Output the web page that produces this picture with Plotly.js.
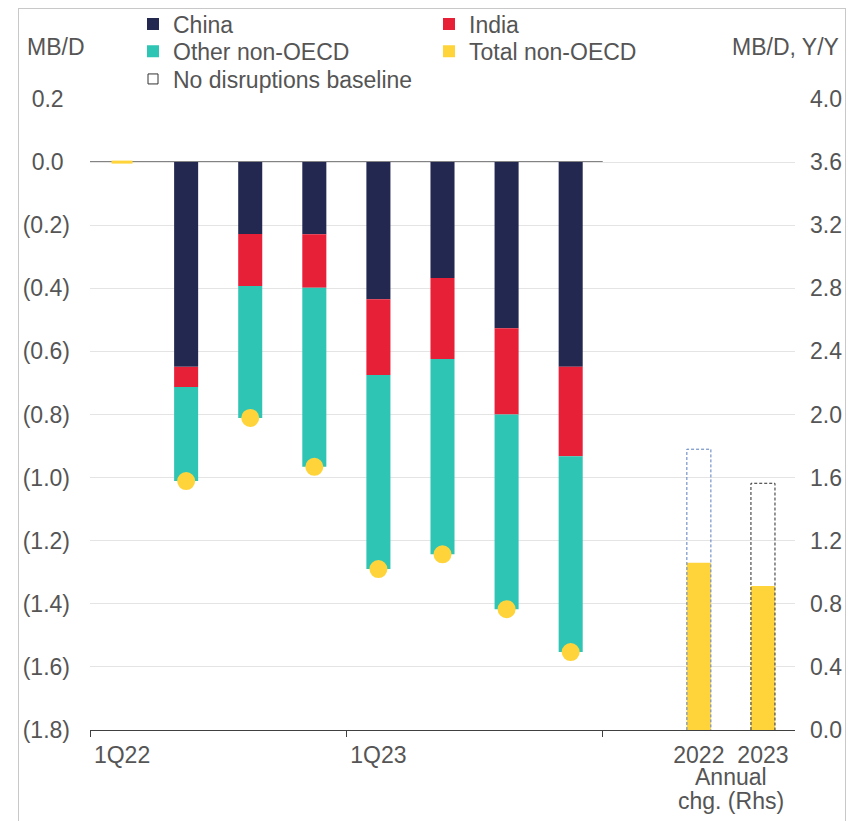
<!DOCTYPE html>
<html>
<head>
<meta charset="utf-8">
<script src="https://cdn.plot.ly/plotly-3.0.1.min.js"></script>
<style>
html,body{margin:0;padding:0;background:#fff;}
#wrap{position:relative;width:862px;height:821px;overflow:hidden;background:#fff;}
#chart{width:862px;height:821px;}
#frame{position:absolute;left:18px;top:8px;width:828px;height:840px;border:1px solid #c8c8c8;pointer-events:none;box-sizing:border-box;}
</style>
</head>
<body>
<div id="wrap"><div id="chart"></div><div id="frame"></div></div>
<script>
// ---- data ----
const quarters = ['1Q22','2Q22','3Q22','4Q22','1Q23','2Q23','3Q23','4Q23'];
const china    = [0, -0.649, -0.228, -0.229, -0.435, -0.367, -0.527, -0.649];
const india    = [0, -0.064, -0.165, -0.169, -0.240, -0.257, -0.273, -0.283];
const otherNon = [0, -0.298, -0.418, -0.568, -0.615, -0.619, -0.617, -0.621];
const totalQ   = [0, -1.011, -0.811, -0.966, -1.290, -1.243, -1.417, -1.553];
const years    = ['2022','2023'];
const totalAnnual = [1.06, 0.913];
const baselineAnnual = [1.78, 1.564];
const leftTickVals = [0.2, 0.0, -0.2, -0.4, -0.6, -0.8, -1.0, -1.2, -1.4, -1.6, -1.8];
const leftTickText = ['0.2\u00a0','0.0\u00a0','(0.2)','(0.4)','(0.6)','(0.8)','(1.0)','(1.2)','(1.4)','(1.6)','(1.8)'];
const rightTickVals = [0,0.4,0.8,1.2,1.6,2.0,2.4,2.8,3.2,3.6,4.0];
const rightTickText = ['0.0','0.4','0.8','1.2','1.6','2.0','2.4','2.8','3.2','3.6','4.0'];
const xLabels = ['1Q22','1Q23','2022','2023'];

// ---- positions ----
const qx = quarters.map((q,i) => i);
const yx = years.map((y,i) => quarters.length + 1 + i);
const xLabelPos = [quarters.indexOf('1Q22'), quarters.indexOf('1Q23'), yx[0], yx[1]];
const BW = 0.375;

const C_CHINA = '#222850', C_INDIA = '#e71f37', C_OTHER = '#2fc5b5', C_YEL = '#ffd43b';
const FONT = '"Liberation Sans", Arial, sans-serif';
const TXT = '#555555';
const FS = 23;

const traces = [
  {type:'bar', name:'China', legend:'legend', x:qx, y:china, width:BW, marker:{color:C_CHINA}, hoverinfo:'skip'},
  {type:'bar', name:'India', legend:'legend', x:qx, y:india, width:BW, marker:{color:C_INDIA}, hoverinfo:'skip'},
  {type:'bar', name:'Other non-OECD', legend:'legend2', x:qx, y:otherNon, width:BW, marker:{color:C_OTHER}, hoverinfo:'skip'},
  {type:'bar', name:'Total non-OECD', legend:'legend2', x:yx, y:totalAnnual, yaxis:'y2', width:BW, marker:{color:C_YEL}, legendgroup:'tot', hoverinfo:'skip'},
  {type:'scatter', mode:'markers', x:qx, y:totalQ, showlegend:false, legend:'legend2', legendgroup:'tot', opacity:1,
   marker:{color:C_YEL, opacity:1, size:totalQ.map(v => v===0 ? 15 : 16),
           symbol:totalQ.map(v => v===0 ? 'line-ew' : 'circle'),
           line:{color:C_YEL, width:totalQ.map(v => v===0 ? 3 : 2)}}, hoverinfo:'skip', cliponaxis:false}
];
// dashed outlines for baseline
const outlineColors = ['#5a7dbd', '#2a2a2a'];
baselineAnnual.forEach((b,i) => {
  const c = yx[i];
  traces.push({type:'scatter', mode:'lines', yaxis:'y2', showlegend:false, legend:'legend3', hoverinfo:'skip',
    x:[c-BW/2, c-BW/2, c+BW/2, c+BW/2], y:[0, b, b, 0],
    line:{color:outlineColors[i], width:1, dash:'3px,2px'}});
});
// legend entry for baseline
traces.push({type:'scatter', mode:'markers', name:'No disruptions baseline', legend:'legend3', x:[null], y:[null], yaxis:'y2',
  marker:{symbol:'square-open', size:10, color:'#333', line:{width:1, color:'#333'}}});

function legendAt(yTopPx) {
  return {orientation:'h', x:0.061, xanchor:'left', y:(730 - yTopPx) / 631, yanchor:'top',
          entrywidth:251, entrywidthmode:'pixels', traceorder:'normal',
          font:{family:FONT, size:FS, color:TXT}, bgcolor:'rgba(255,255,255,0)', borderwidth:0};
}

const layout = {
  width:862, height:821,
  margin:{l:90, r:67, t:99, b:91, autoexpand:false},
  paper_bgcolor:'rgba(255,255,255,0)', plot_bgcolor:'rgba(255,255,255,0)',
  font:{family:FONT, size:FS, color:TXT},
  barmode:'relative',
  showlegend:true,
  legend:legendAt(2.5),
  legend2:legendAt(29.7),
  legend3:legendAt(57.5),
  xaxis:{type:'linear', range:[-0.5, quarters.length + years.length + 0.5],
         tickmode:'array', tickvals:xLabelPos, ticktext:xLabels, ticks:'', ticklabelstandoff:4,
         showgrid:false, zeroline:false, showline:true, linecolor:'#404040', linewidth:1,
         tickfont:{family:FONT, size:FS, color:TXT},
         minor:{tickmode:'array', tickvals:[-0.5, 3.5, 7.5], ticks:'outside', ticklen:6, tickcolor:'#404040', tickwidth:1, showgrid:false}},
  yaxis:{range:[-1.8, 0.2], tickmode:'array', tickvals:leftTickVals, ticktext:leftTickText,
         showgrid:true, gridcolor:'#e4e4e4', gridwidth:1, zeroline:false, showline:false, ticks:'',
         ticklabelstandoff:19, tickfont:{family:FONT, size:FS, color:TXT}},
  yaxis2:{range:[0, 4.0], overlaying:'y', side:'right', tickmode:'array', tickvals:rightTickVals, ticktext:rightTickText,
          showgrid:false, zeroline:false, showline:false, ticks:'', ticklabelstandoff:14,
          tickfont:{family:FONT, size:FS, color:TXT}},
  shapes:[
    {type:'line', xref:'x', yref:'y', x0:-0.5, x1:quarters.length-0.5, y0:0, y1:0, line:{color:'#5a5a5a', width:1.5}, layer:'below'}
  ],
  annotations:[
    {text:'MB/D', xref:'paper', yref:'paper', x:-0.092, y:1.0824, xanchor:'left', yanchor:'middle', showarrow:false, font:{family:FONT, size:FS, color:TXT}},
    {text:'MB/D, Y/Y', xref:'paper', yref:'paper', x:1.0655, y:1.0824, xanchor:'right', yanchor:'middle', showarrow:false, font:{family:FONT, size:FS, color:TXT}},
    {text:'Annual', xref:'x', yref:'paper', x:(yx[0]+yx[1])/2, y:-0.0745, xanchor:'center', yanchor:'middle', showarrow:false, font:{family:FONT, size:FS, color:TXT}},
    {text:'chg. (Rhs)', xref:'x', yref:'paper', x:(yx[0]+yx[1])/2, y:-0.112, xanchor:'center', yanchor:'middle', showarrow:false, font:{family:FONT, size:FS, color:TXT}}
  ]
};

Plotly.newPlot('chart', traces, layout, {displayModeBar:false, staticPlot:true});
</script>
</body>
</html>
